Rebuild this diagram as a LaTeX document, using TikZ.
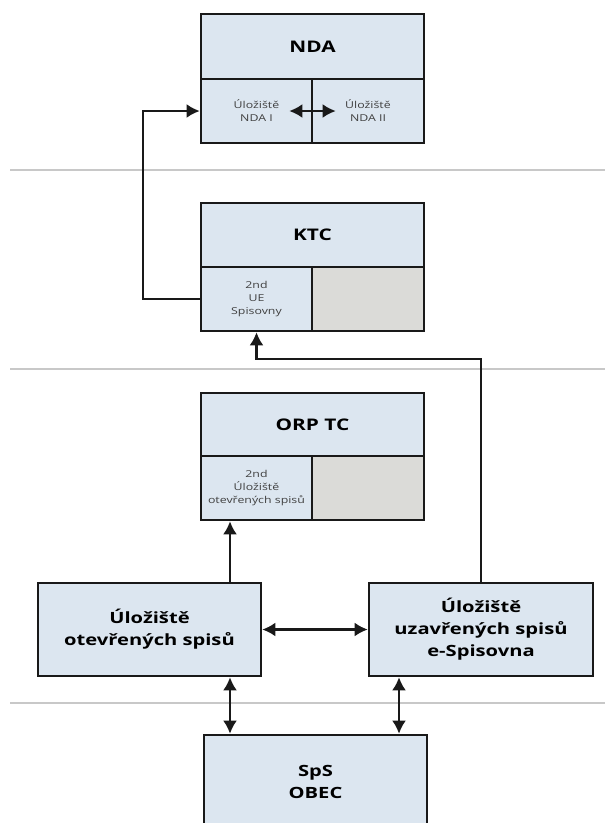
\documentclass[tikz,border=0pt]{standalone}
\usepackage{fontspec}
\setmainfont[FakeStretch=1.3]{Open Sans}
\usetikzlibrary{arrows.meta}
\tikzset{>={Latex[length=13pt,width=14pt]}}
\definecolor{boxblue}{RGB}{220,230,240}
\definecolor{boxgray}{RGB}{219,219,216}
\definecolor{sepgray}{RGB}{200,200,200}
\tikzset{
  cell/.style={draw=black!90, line width=2.6pt, fill=boxblue, inner sep=0pt, align=center},
  head/.style={cell, font=\fontsize{16}{20}\selectfont\bfseries},
  small/.style={cell, font=\fontsize{9.5}{13}\selectfont, text=black!75},
  big/.style={cell, font=\fontsize{15.5}{22}\selectfont\bfseries},
  blank/.style={cell, fill=boxgray},
  link/.style={line width=2.3pt, draw=black!90},
  sep/.style={draw=sepgray, line width=1.5pt}
}

\begin{document}
\begin{tikzpicture}[x=1pt,y=-1pt]
            \useasboundingbox (0,0) rectangle (605,823);
            % level separators
            \draw[sep] (10,170) -- (605,170);
            \draw[sep] (10,369) -- (605,369);
            \draw[sep] (10,703) -- (605,703);
            % NDA
            \node[head, minimum width=223pt, minimum height=65pt] (nda) at (312.5,46.5) {NDA};
            \node[small, minimum width=111pt, minimum height=64pt] (ndaA) at (256.5,111) {Úložiště\\NDA I};
            \node[small, minimum width=112pt, minimum height=64pt] (ndaB) at (368,111) {Úložiště\\NDA II};
            % KTC
            \node[head, minimum width=223pt, minimum height=64pt] (ktc) at (312.5,235) {KTC};
            \node[small, minimum width=111pt, minimum height=64pt] (ktcA) at (256.5,299) {2nd\\UE\\Spisovny};
            \node[blank, minimum width=112pt, minimum height=64pt] (ktcB) at (368,299) {};
            % ORP TC
            \node[head, minimum width=223pt, minimum height=63pt] (orp) at (312.5,424.5) {ORP TC};
            \node[small, minimum width=111pt, minimum height=64pt] (orpA) at (256.5,488) {2nd\\Úložiště\\otevřených spisů};
            \node[blank, minimum width=112pt, minimum height=64pt] (orpB) at (368,488) {};
            % storages
            \node[big, minimum width=223pt, minimum height=93pt] (ulzO) at (149.5,629.5) {Úložiště\\otevřených spisů};
            \node[big, minimum width=224pt, minimum height=93pt] (ulzU) at (481,629.5) {Úložiště\\uzavřených spisů\\e-Spisovna};
            \node[big, minimum width=223pt, minimum height=94pt] (obec) at (315.5,782) {SpS\\OBEC};
            % connectors
            \coordinate (lbend) at (143,111);
            \coordinate (ktcturn) at (256.5,359);
            \coordinate (colL) at (230,0);
            \coordinate (colR) at (399,0);
            \draw[link,->] (ktcA.west) -| (lbend) -- (ndaA.west);
            \draw[link,<->] ([xshift=-24pt]ndaA.east) -- ([xshift=25pt]ndaB.west);
            \draw[link,->] (ulzU.north) |- (ktcturn) -- (ktcA.south);
            \draw[link,->] (ulzO.north -| colL) -- (orpA.south -| colL);
            \draw[link,<->] (ulzO) -- (ulzU);
            \draw[link,<->] (ulzO.south -| colL) -- (obec.north -| colL);
            \draw[link,<->] (ulzU.south -| colR) -- (obec.north -| colR);
        \end{tikzpicture}
\end{document}
